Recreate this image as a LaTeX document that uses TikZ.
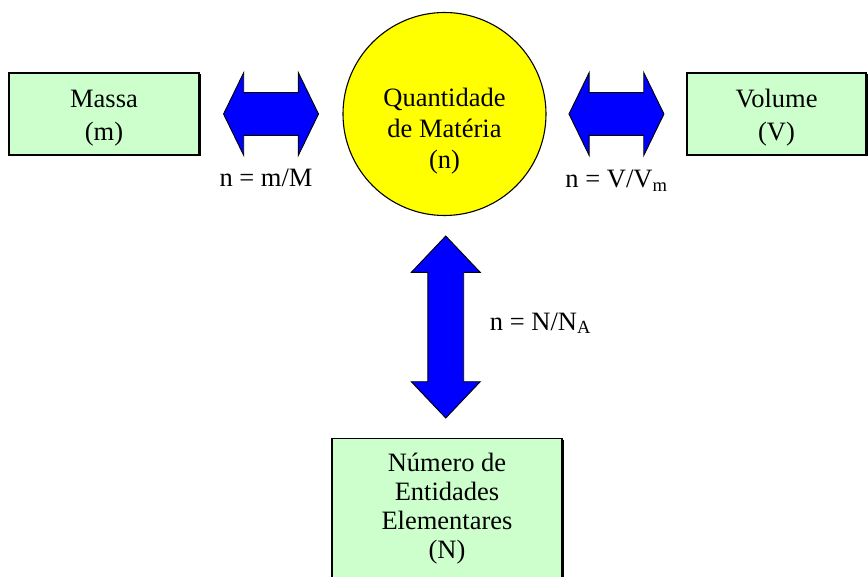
\documentclass[tikz,border=0pt]{standalone}
\usepackage{fontspec}
\setmainfont{Liberation Serif}
\usetikzlibrary{positioning,calc,shapes.arrows,shadows}

\definecolor{boxgreen}{HTML}{CCFFCC}
\definecolor{arrblue}{HTML}{0000FF}
\definecolor{qmyellow}{HTML}{FFFF00}

\tikzset{
  greenbox/.style={draw, line width=1.2pt, fill=boxgreen, align=center, inner sep=0pt,
    drop shadow={shadow xshift=1.5pt, shadow yshift=-1.5pt, opacity=1, fill=black}},
  bigarrow/.style={double arrow, draw, line width=0.9pt, fill=arrblue, inner xsep=0pt,
    double arrow head indent=0pt},
  eqlabel/.style={inner sep=0pt}
}

\begin{document}
\begin{tikzpicture}[x=1pt, y=-1pt, font=\fontsize{26.5}{31}\selectfont]
    \clip (0,0) rectangle (868,577);
    \fill[white] (0,0) rectangle (868,577);

    % the quantity and what it is linked to
    \node[circle, draw, line width=1.1pt, fill=qmyellow, minimum size=203pt, inner sep=0pt, align=center]
        (qm) at (444.5,114) {\rule{0pt}{51.7pt}Quantidade\\de Matéria\\(n)};
    \node[greenbox, minimum width=190pt, minimum height=82pt, font=\fontsize{26.5}{33}\selectfont]
        (massa) at (104,114) {\rule{0pt}{25pt}Massa\\(m)};
    \node[greenbox, minimum width=179pt, minimum height=82pt, font=\fontsize{26.5}{33}\selectfont]
        (volume) at (776.5,114) {\rule{0pt}{25pt}Volume\\(V)};
    \node[greenbox, anchor=north, minimum width=230pt, minimum height=141pt, font=\fontsize{26.5}{29}\selectfont]
        (entidades) at (447,438) {Número de\\Entidades\\Elementares\\(N)};

    % block arrows
    \node[bigarrow, minimum height=95pt, inner ysep=21pt, double arrow head extend=20pt,
        double arrow tip angle=128] (arrM) at ($(massa.east)!.5!(qm.west)$) {};
    \node[bigarrow, minimum height=95pt, inner ysep=21pt, double arrow head extend=20pt,
        double arrow tip angle=128] (arrV) at ($(qm.east)!.5!(volume.west)$) {};
    \node[bigarrow, rotate=90, minimum height=182pt, inner ysep=17.5pt, double arrow head extend=16.5pt,
        double arrow tip angle=87] (arrN) at ($(qm.south)!.5!(entidades.north)$) {};

    % relations
    \node[eqlabel, anchor=base] (eqM) at ($(arrM.center)+(-5,73)$) {n = m/M};
    \node[eqlabel, anchor=base] (eqV) at ($(arrV.center)+(0,74)$) {n = V/V\textsubscript{m}};
    \node[eqlabel, anchor=base west] (eqN) at ($(arrN.center)+(44,3)$) {n = N/N\textsubscript{A}};
\end{tikzpicture}
\end{document}
